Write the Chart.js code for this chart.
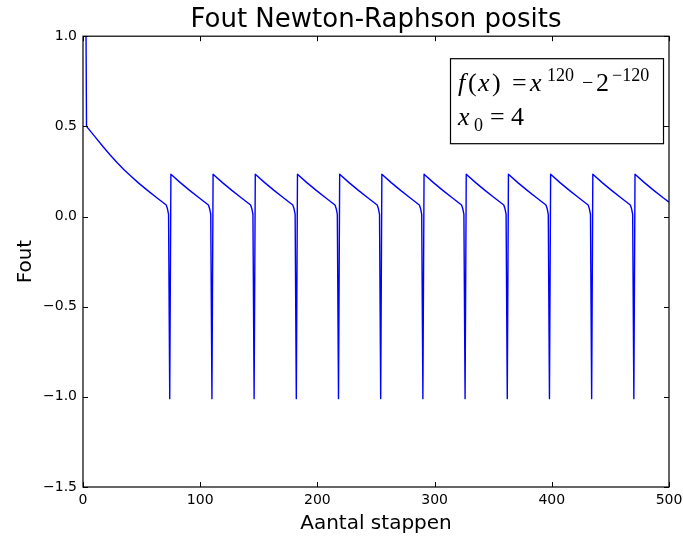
<!DOCTYPE html>
<html>
<head>
<meta charset="utf-8">
<script src="https://cdn.jsdelivr.net/npm/chart.js@4.4.0/dist/chart.umd.min.js"></script>
<style>
  html, body { margin: 0; padding: 0; background: #fff; }
  canvas { display: block; }
</style>
</head>
<body>
<canvas id="myChart" width="683" height="536"></canvas>
<script>
// iteration number and error after that iteration
const steps = [
  0, 1, 2, 3, 11, 17, 23, 29, 35, 41, 47, 55, 63, 71, 72, 73, 74,
  75, 83, 91, 99, 107, 108, 109, 110,
  111, 119, 127, 135, 143, 144, 145, 146,
  147, 155, 163, 171, 179, 180, 181, 182,
  183, 191, 199, 207, 215, 216, 217, 218,
  219, 227, 235, 243, 251, 252, 253, 254,
  255, 263, 271, 279, 287, 288, 289, 290,
  291, 299, 307, 315, 323, 324, 325, 326,
  327, 335, 343, 351, 359, 360, 361, 362,
  363, 371, 379, 387, 395, 396, 397, 398,
  399, 407, 415, 423, 431, 432, 433, 434,
  435, 443, 451, 459, 467, 468, 469, 470,
  471, 479, 487, 495, 500
];
const errors = [
  3.5, 2.6, 1.7, 0.5, 0.436, 0.388, 0.343, 0.3, 0.26, 0.223, 0.188, 0.145, 0.104, 0.064, 0.045, 0.012, -1.01,
  0.235, 0.188, 0.145, 0.104, 0.064, 0.045, 0.012, -1.01,
  0.235, 0.188, 0.145, 0.104, 0.064, 0.045, 0.012, -1.01,
  0.235, 0.188, 0.145, 0.104, 0.064, 0.045, 0.012, -1.01,
  0.235, 0.188, 0.145, 0.104, 0.064, 0.045, 0.012, -1.01,
  0.235, 0.188, 0.145, 0.104, 0.064, 0.045, 0.012, -1.01,
  0.235, 0.188, 0.145, 0.104, 0.064, 0.045, 0.012, -1.01,
  0.235, 0.188, 0.145, 0.104, 0.064, 0.045, 0.012, -1.01,
  0.235, 0.188, 0.145, 0.104, 0.064, 0.045, 0.012, -1.01,
  0.235, 0.188, 0.145, 0.104, 0.064, 0.045, 0.012, -1.01,
  0.235, 0.188, 0.145, 0.104, 0.064, 0.045, 0.012, -1.01,
  0.235, 0.188, 0.145, 0.104, 0.064, 0.045, 0.012, -1.01,
  0.235, 0.188, 0.145, 0.104, 0.08
];
const xMin = 0, xMax = 500, xStep = 100;
const yMin = -1.5, yMax = 1.0, yStep = 0.5;

const ctx = document.getElementById('myChart');
Chart.defaults.font.family = "'DejaVu Sans', sans-serif";
Chart.defaults.color = '#000';

// center the title over the plot area instead of the whole canvas
const titleOverPlot = {
  id: 'titleOverPlot',
  afterLayout(chart) {
    if (chart.titleBlock) {
      chart.titleBlock.left = chart.chartArea.left;
      chart.titleBlock.right = chart.chartArea.right;
    }
  }
};

// black frame round the plot with short inward ticks on all four sides
const frame = {
  id: 'frame',
  afterDatasetsDraw(chart) {
    const { ctx, chartArea: a, scales: { x, y } } = chart;
    ctx.save();
    ctx.strokeStyle = '#000';
    ctx.lineWidth = 1;
    ctx.beginPath();
    x.ticks.forEach(t => {
      const px = Math.round(x.getPixelForValue(t.value)) + 0.5;
      ctx.moveTo(px, a.bottom); ctx.lineTo(px, a.bottom - 5);
      ctx.moveTo(px, a.top); ctx.lineTo(px, a.top + 5);
    });
    y.ticks.forEach(t => {
      const py = Math.round(y.getPixelForValue(t.value)) + 0.5;
      ctx.moveTo(a.left, py); ctx.lineTo(a.left + 5, py);
      ctx.moveTo(a.right, py); ctx.lineTo(a.right - 5, py);
    });
    ctx.stroke();
    ctx.lineWidth = 1.2;
    ctx.strokeRect(a.left, a.top, a.right - a.left, a.bottom - a.top);
    ctx.restore();
  }
};

// boxed formula in the upper right corner
const formula = {
  id: 'formula',
  afterDraw(chart) {
    const { ctx, chartArea: a } = chart;
    const w = 213, h = 85;
    const L = a.right - 6 - w, T = a.top + 22;
    ctx.save();
    ctx.fillStyle = '#fff';
    ctx.fillRect(L, T, w, h);
    ctx.strokeStyle = '#000';
    ctx.lineWidth = 1.2;
    ctx.strokeRect(L + 0.5, T + 0.5, w, h);
    ctx.fillStyle = '#000';
    ctx.textBaseline = 'alphabetic';
    const serif = "'Liberation Serif', 'DejaVu Serif', serif";
    const b1 = T + 33, b2 = T + 67;
    // [text, italic, size, x offset, baseline]
    const glyphs = [
      ['f', 1, 26, 8, b1], ['(', 0, 26, 18, b1], ['x', 1, 26, 28, b1], [')', 0, 26, 42, b1],
      ['=', 0, 26, 62, b1], ['x', 1, 26, 80, b1], ['120', 0, 18, 97, b1 - 10],
      ['\u2212', 0, 20, 132, b1 - 2], ['2', 0, 26, 146, b1], ['\u2212120', 0, 18, 162, b1 - 10],
      ['x', 1, 26, 8, b2], ['0', 0, 18, 24, b2 + 6], ['=', 0, 26, 40, b2], ['4', 0, 26, 61, b2]
    ];
    glyphs.forEach(([t, it, size, dx, by]) => {
      ctx.font = (it ? 'italic ' : '') + size + 'px ' + serif;
      ctx.fillText(t, L + dx, by);
    });
    ctx.restore();
  }
};

new Chart(ctx, {
  type: 'line',
  data: {
    datasets: [{
      data: steps.map((s, i) => ({ x: s, y: errors[i] })),
      borderColor: '#0000ff',
      borderWidth: 1.4,
      borderJoinStyle: 'round',
      pointRadius: 0,
      tension: 0,
      fill: false
    }]
  },
  options: {
    responsive: false,
    animation: false,
    layout: { padding: { left: 0, right: 14, top: 0, bottom: 0 } },
    plugins: {
      legend: { display: false },
      tooltip: { enabled: false },
      title: {
        display: true,
        text: 'Fout Newton-Raphson posits',
        color: '#000',
        font: { size: 26, weight: 'normal', lineHeight: 1.2 },
        padding: { top: 5, bottom: 0 }
      }
    },
    scales: {
      x: {
        type: 'linear',
        min: xMin, max: xMax,
        grid: { display: false, drawTicks: false },
        border: { display: false },
        ticks: { stepSize: xStep, padding: 5, font: { size: 14 }, maxRotation: 0 },
        title: { display: true, text: 'Aantal stappen', font: { size: 20 }, padding: { top: 0, bottom: 0 } },
        afterFit: s => { s.height = 49; s.paddingLeft = 0; s.paddingRight = 0; }
      },
      y: {
        type: 'linear',
        min: yMin, max: yMax,
        grid: { display: false, drawTicks: false },
        border: { display: false },
        ticks: {
          stepSize: yStep, padding: 6, font: { size: 14 },
          callback: v => v.toFixed(1).replace('-', '\u2212')
        },
        title: { display: true, text: 'Fout', font: { size: 20 }, padding: { top: 14, bottom: 0 } },
        afterFit: s => { s.width = 83; s.paddingTop = 0; s.paddingBottom = 0; }
      }
    }
  },
  plugins: [titleOverPlot, frame, formula]
});
</script>
</body>
</html>
